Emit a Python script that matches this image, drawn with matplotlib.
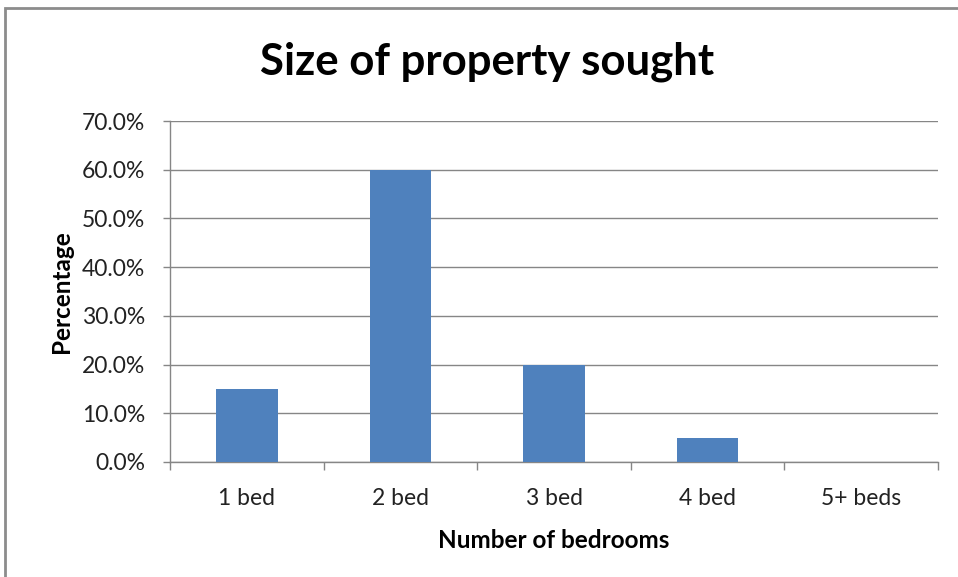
import numpy as np
import matplotlib.pyplot as plt
from matplotlib.patches import Rectangle
from matplotlib.ticker import PercentFormatter, FixedLocator

plt.rcParams['font.family'] = ['Lato', 'DejaVu Sans']

categories = ['1 bed', '2 bed', '3 bed', '4 bed', '5+ beds']
percentages = [15.0, 60.0, 20.0, 5.0, 0.0]
y_ticks = [0, 10, 20, 30, 40, 50, 60, 70]

grey = '#868686'

fig = plt.figure(figsize=(9.58, 5.77), dpi=100)
ax = fig.add_axes([170 / 958, 115 / 577, 768 / 958, 341 / 577])

x = np.arange(len(categories))
ax.bar(x, percentages, width=0.4, color='#4f81bd', zorder=3)

ax.set_xlim(-0.5, len(categories) - 0.5)
ax.set_ylim(0, 70)
ax.set_yticks(y_ticks)
ax.yaxis.set_major_formatter(PercentFormatter(decimals=1))
ax.grid(axis='y', color=grey, linewidth=1, zorder=0)

# category labels centred, tick marks on the boundaries
ax.set_xticks(x)
ax.set_xticklabels(categories)
ax.xaxis.set_minor_locator(FixedLocator(np.arange(len(categories) + 1) - 0.5))
ax.tick_params(axis='x', which='major', length=0, pad=19, labelsize=16.5, labelcolor='#222222')
ax.tick_params(axis='x', which='minor', length=6, color=grey, width=1)
ax.tick_params(axis='y', length=5, color=grey, width=1, labelsize=16.5, labelcolor='#222222', pad=13)

for s in ['top', 'right']:
    ax.spines[s].set_visible(False)
for s in ['left', 'bottom']:
    ax.spines[s].set_color(grey)
    ax.spines[s].set_linewidth(1)

ax.set_xlabel('Number of bedrooms', fontsize=17.5, fontweight='bold', labelpad=14)
ax.set_ylabel('Percentage', fontsize=17.5, fontweight='bold', labelpad=6)
fig.text(487 / 958, 1 - 62 / 577, 'Size of property sought', ha='center', va='center',
         fontsize=31.5, fontweight='bold')

# chart-area border
fig.patches.append(Rectangle((5 / 958, -0.05), 1.0, 1 - 8 / 577 + 0.05,
                             transform=fig.transFigure, fill=False,
                             edgecolor='#8c8c8c', linewidth=2))

fig.savefig('out.png', dpi=100)
